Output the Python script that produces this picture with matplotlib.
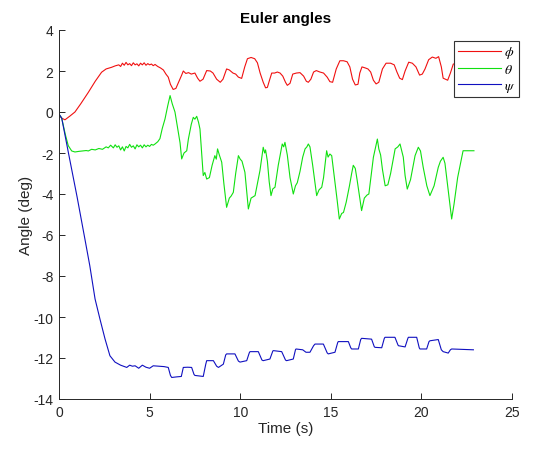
import matplotlib
matplotlib.use("Agg")
import matplotlib.pyplot as plt

plt.rcParams['font.family'] = ['Liberation Sans', 'DejaVu Sans']
plt.rcParams['mathtext.fontset'] = 'stix'
plt.rcParams['axes.unicode_minus'] = False

# roll angle phi (deg)
phi_t = [0.0, 0.15, 0.33, 0.6, 0.88, 1.2, 1.62, 2.0, 2.35, 2.6, 2.9, 3.1, 3.3, 3.4, 3.5, 3.6, 3.7,
         3.8, 3.9, 4.0, 4.1, 4.2, 4.3, 4.4, 4.5, 4.6, 4.7, 4.8, 4.9, 5.0, 5.1, 5.2, 5.3, 5.45, 5.6,
         5.76, 5.9, 6.03, 6.15, 6.3, 6.45, 6.6, 6.77, 6.86, 7.0, 7.15, 7.3, 7.5, 7.65, 7.78, 7.95,
         8.15, 8.35, 8.5, 8.7, 8.9, 9.05, 9.25, 9.4, 9.6, 9.75, 9.9, 10.08, 10.25, 10.4, 10.6, 10.8,
         10.95, 11.1, 11.27, 11.4, 11.5, 11.6, 11.74, 11.9, 12.05, 12.2, 12.35, 12.5, 12.6, 12.75,
         12.9, 13.1, 13.3, 13.5, 13.65, 13.76, 13.9, 14.05, 14.2, 14.4, 14.6, 14.8, 14.95, 15.1,
         15.3, 15.5, 15.7, 15.9, 16.05, 16.2, 16.35, 16.5, 16.6, 16.72, 16.9, 17.05, 17.2, 17.35,
         17.5, 17.65, 17.85, 18.05, 18.3, 18.5, 18.65, 18.8, 18.95, 19.1, 19.3, 19.5, 19.7, 19.9,
         20.05, 20.2, 20.4, 20.6, 20.8, 20.95, 21.1, 21.2, 21.45, 21.6, 21.76, 21.9, 22.1, 22.3,
         22.5, 22.7, 22.9]
phi_deg = [-0.15, -0.3, -0.38, -0.2, 0.0, 0.4, 0.96, 1.5, 1.94, 2.1, 2.18, 2.25, 2.3, 2.22, 2.38,
           2.28, 2.42, 2.3, 2.36, 2.26, 2.4, 2.3, 2.35, 2.25, 2.38, 2.3, 2.4, 2.28, 2.36, 2.3,
           2.34, 2.26, 2.32, 2.22, 2.15, 2.05, 1.85, 1.7, 1.35, 1.1, 1.15, 1.45, 1.8, 2.0, 1.88,
           1.92, 1.85, 1.9, 1.65, 1.5, 1.6, 2.02, 2.0, 1.9, 1.6, 1.45, 1.6, 2.1, 2.05, 1.9, 1.85,
           1.7, 1.64, 2.2, 2.6, 2.66, 2.6, 2.4, 1.9, 1.45, 1.18, 1.2, 1.5, 1.9, 1.9, 1.95, 1.9,
           1.75, 1.45, 1.3, 1.4, 1.85, 1.9, 1.92, 1.75, 1.5, 1.45, 1.6, 1.95, 2.02, 1.95, 1.9,
           1.7, 1.48, 1.45, 2.1, 2.5, 2.5, 2.45, 2.2, 1.6, 1.32, 1.35, 1.9, 2.2, 2.15, 2.1, 1.95,
           1.55, 1.37, 1.45, 2.1, 2.38, 2.38, 2.3, 1.95, 1.65, 1.58, 2.0, 2.43, 2.38, 2.2, 1.8,
           1.85, 2.1, 2.55, 2.68, 2.62, 2.7, 2.2, 1.65, 1.55, 1.9, 2.34, 2.35, 2.1, 1.7, 1.6,
           2.0, 2.2]

# pitch angle theta (deg)
theta_t = [0.0, 0.15, 0.35, 0.51, 0.7, 0.88, 1.1, 1.3, 1.5, 1.62, 1.8, 2.0, 2.2, 2.4, 2.6, 2.72,
           2.85, 3.0, 3.1, 3.2, 3.3, 3.4, 3.5, 3.6, 3.7, 3.8, 3.9, 4.0, 4.1, 4.2, 4.3, 4.4, 4.5,
           4.6, 4.7, 4.8, 4.9, 5.0, 5.1, 5.2, 5.3, 5.45, 5.57, 5.7, 5.85, 6.0, 6.13, 6.25, 6.4,
           6.55, 6.68, 6.77, 6.9, 7.05, 7.14, 7.3, 7.41, 7.5, 7.6, 7.7, 7.78, 7.87, 7.96, 8.05,
           8.15, 8.3, 8.45, 8.6, 8.68, 8.75, 8.85, 8.98, 9.1, 9.25, 9.4, 9.5, 9.62, 9.75, 9.9,
           10.0, 10.1, 10.26, 10.35, 10.45, 10.6, 10.82, 10.95, 11.09, 11.18, 11.27, 11.35, 11.4,
           11.5, 11.6, 11.7, 11.8, 11.92, 12.1, 12.32, 12.4, 12.47, 12.6, 12.75, 12.93, 13.05,
           13.15, 13.3, 13.45, 13.58, 13.68, 13.76, 13.85, 14.0, 14.22, 14.35, 14.5, 14.6, 14.77,
           14.85, 14.95, 15.05, 15.23, 15.35, 15.47, 15.6, 15.7, 15.85, 16.03, 16.15, 16.24,
           16.35, 16.45, 16.7, 16.85, 17.0, 17.1, 17.35, 17.5, 17.57, 17.65, 17.75, 17.85, 18.0,
           18.15, 18.3, 18.55, 18.7, 18.82, 18.9, 19.0, 19.1, 19.22, 19.4, 19.65, 19.83, 19.95,
           20.1, 20.3, 20.47, 20.7, 20.93, 21.05, 21.2, 21.3, 21.45, 21.67, 21.8, 22.0, 22.3,
           22.6, 22.9]
theta_deg = [-0.1, -0.3, -1.1, -1.64, -1.9, -1.95, -1.92, -1.9, -1.88, -1.9, -1.82, -1.85, -1.78,
             -1.82, -1.7, -1.75, -1.62, -1.75, -1.6, -1.72, -1.65, -1.85, -1.7, -1.9, -1.68, -1.75,
             -1.58, -1.72, -1.65, -1.8, -1.6, -1.7, -1.62, -1.75, -1.6, -1.7, -1.62, -1.68, -1.58,
             -1.62, -1.56, -1.45, -1.3, -0.8, -0.34, 0.3, 0.8, 0.4, 0.0, -0.8, -1.5, -2.29, -2.0,
             -1.89, -1.32, -0.6, -0.26, -0.35, -0.21, -0.5, -0.83, -2.0, -3.1, -2.95, -3.27, -3.2,
             -2.6, -2.13, -2.3, -1.8, -2.1, -2.45, -3.5, -4.65, -4.2, -4.1, -3.92, -3.0, -2.13,
             -2.3, -2.4, -2.94, -3.8, -4.73, -4.2, -4.08, -3.5, -2.86, -2.3, -1.72, -2.0, -1.85,
             -2.4, -3.4, -4.08, -3.75, -3.67, -2.6, -1.56, -1.7, -1.48, -2.1, -3.2, -4.0, -3.6,
             -3.45, -2.9, -2.2, -1.8, -1.7, -1.56, -1.7, -2.6, -4.08, -3.8, -3.67, -3.2, -1.89,
             -2.2, -2.05, -2.13, -3.43, -4.3, -5.22, -4.95, -4.9, -4.4, -3.6, -3.0, -2.6, -2.75,
             -3.3, -4.81, -4.2, -4.05, -4.0, -2.21, -1.6, -1.32, -1.8, -2.1, -2.8, -3.6, -3.55,
             -3.0, -1.8, -1.7, -1.56, -1.85, -2.2, -3.1, -3.76, -3.3, -2.13, -1.72, -1.9, -2.7,
             -3.6, -4.08, -3.6, -2.7, -2.4, -2.21, -2.5, -3.6, -5.22, -4.5, -3.2, -1.89, -1.89,
             -1.89]

# yaw angle psi (deg)
psi_t = [0.0, 0.15, 0.5, 1.0, 1.43, 1.7, 1.99, 2.26, 2.54, 2.81, 3.09, 3.4, 3.74, 3.9, 4.05, 4.2,
         4.4, 4.6, 4.8, 5.0, 5.2, 5.5, 5.8, 6.03, 6.15, 6.22, 6.5, 6.75, 6.86, 7.1, 7.32, 7.45,
         7.5, 7.96, 8.1, 8.15, 8.52, 8.7, 8.8, 9.07, 9.2, 9.25, 9.71, 9.9, 9.99, 10.36, 10.5,
         10.54, 11.0, 11.2, 11.27, 11.64, 11.8, 11.83, 12.29, 12.5, 12.56, 12.93, 13.05, 13.08,
         13.45, 13.63, 13.85, 14.05, 14.13, 14.59, 14.8, 14.86, 15.23, 15.38, 15.41, 15.97, 16.1,
         16.15, 16.52, 16.65, 16.7, 17.25, 17.4, 17.44, 17.81, 17.95, 17.99, 18.54, 18.7, 18.73,
         19.1, 19.25, 19.28, 19.74, 19.88, 19.92, 20.29, 20.42, 20.47, 20.93, 21.1, 21.2, 21.48,
         21.6, 21.67, 22.87]
psi_deg = [-0.1, -0.3, -1.9, -4.15, -6.2, -7.5, -9.12, -10.1, -11.07, -11.89, -12.2, -12.35,
           -12.46, -12.35, -12.4, -12.38, -12.5, -12.35, -12.45, -12.5, -12.38, -12.4, -12.42,
           -12.46, -12.85, -12.95, -12.92, -12.9, -12.46, -12.45, -12.46, -12.8, -12.85, -12.9,
           -12.3, -12.13, -12.13, -12.4, -12.46, -12.3, -11.85, -11.8, -11.8, -12.15, -12.2,
           -12.13, -11.75, -11.69, -11.69, -12.1, -12.13, -12.05, -11.66, -11.64, -11.69, -12.1,
           -12.13, -12.05, -11.6, -11.56, -11.6, -11.72, -11.72, -11.4, -11.32, -11.32, -11.75,
           -11.8, -11.72, -11.25, -11.2, -11.2, -11.5, -11.56, -11.56, -11.1, -11.04, -11.08,
           -11.45, -11.48, -11.5, -11.05, -10.99, -10.99, -11.35, -11.4, -11.46, -11.05, -10.99,
           -10.99, -11.5, -11.56, -11.56, -11.2, -11.16, -11.1, -11.6, -11.69, -11.76, -11.6,
           -11.56, -11.6]

labels = [r'$\phi$', r'$\theta$', r'$\psi$']
axis_gray = '#262626'

fig = plt.figure(figsize=(5.42, 4.52), dpi=100)
ax = fig.add_axes([59 / 542, 52 / 452, 453 / 542, 369 / 452])

ax.plot(phi_t, phi_deg, color='#f01010', lw=0.8, label=labels[0])
ax.plot(theta_t, theta_deg, color='#10e010', lw=0.8, label=labels[1])
ax.plot(psi_t, psi_deg, color='#1010c0', lw=0.8, label=labels[2])

ax.set_xlim(0, 25)
ax.set_ylim(-14, 4)
ax.set_xticks(range(0, 26, 5))
ax.set_yticks(range(-14, 5, 2))
ax.spines['top'].set_visible(False)
ax.spines['right'].set_visible(False)
for s in ('left', 'bottom'):
    ax.spines[s].set_color(axis_gray)
    ax.spines[s].set_linewidth(0.7)
ax.tick_params(direction='in', length=4, width=0.7, colors=axis_gray, labelsize=10, pad=4)

ax.set_title('Euler angles', fontsize=11, fontweight='bold', pad=6)
ax.set_xlabel('Time (s)', fontsize=11, color=axis_gray, labelpad=2)
ax.set_ylabel('Angle (deg)', fontsize=11, color=axis_gray, labelpad=0)

leg = ax.legend(loc='upper right', bbox_to_anchor=(519 / 542, 1 - 42 / 452),
                bbox_transform=fig.transFigure, fancybox=False, framealpha=1,
                edgecolor='#333333', fontsize=10, handlelength=3.1, handletextpad=0.25,
                labelspacing=0.12, borderpad=0.25, borderaxespad=0)
leg.get_frame().set_linewidth(0.8)

fig.savefig('out.png', dpi=100)
